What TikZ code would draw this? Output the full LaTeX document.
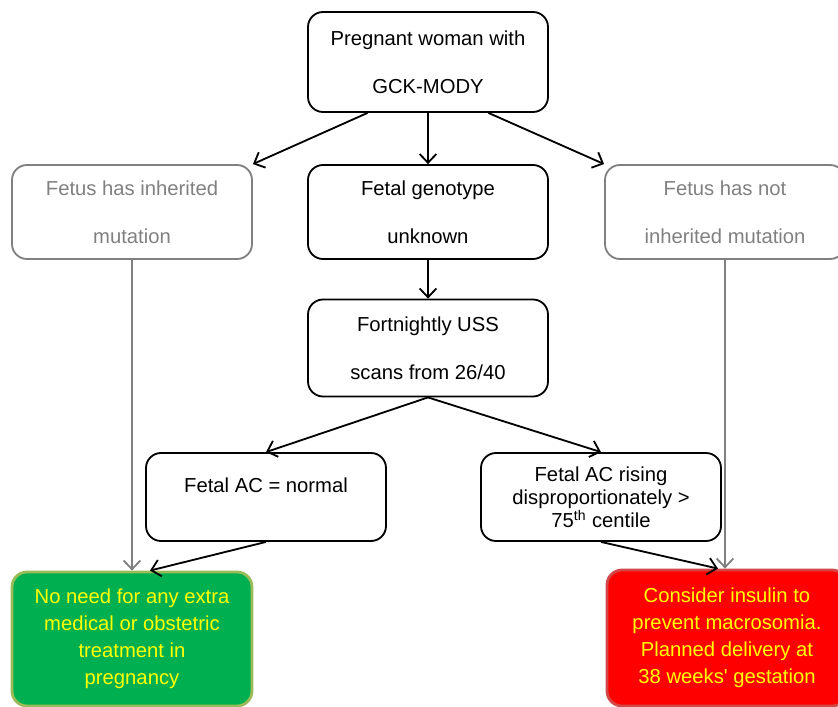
\documentclass[tikz,border=0pt]{standalone}
\usepackage{fontspec}
\setmainfont{Liberation Sans}
\usetikzlibrary{arrows.meta,positioning,calc}
\definecolor{boxgray}{HTML}{808080}
\definecolor{okgreen}{HTML}{00B050}
\definecolor{okgreenline}{HTML}{9BBB59}
\definecolor{alarmred}{HTML}{FF0000}
\definecolor{alarmredline}{HTML}{D24848}
\definecolor{outyellow}{HTML}{FFFF00}
\tikzset
{
    process/.style={rectangle, rounded corners=0.375cm, draw=black, line width=1.3pt, minimum width=6cm, align=center, font=\fontsize{14.4}{34}\selectfont},
    faded/.style={process, draw=boxgray, text=boxgray},
    tight/.style={process, minimum height=2.2cm, font=\fontsize{14.4}{16.5}\selectfont},
    outcome/.style={process, line width=2pt, text=outyellow, font=\fontsize{14.4}{19.2}\selectfont},
    arrow/.style={line width=1.3pt, ->, >={Straight Barb[length=2.2mm,width=4.2mm]}},
    grayarrow/.style={arrow, draw=boxgray},
}

\begin{document}
\begin{tikzpicture}[node distance=3.75cm]
	\useasboundingbox (0,0) rectangle (20.95,-17.675);
	\node (mother) [process, minimum height=2.5cm] at (10.7,-1.55) {Pregnant woman with\\GCK-MODY};
	\node (unknown) [process, below of=mother, minimum height=2.35cm] {Fetal genotype\\unknown};
	\node (inh) [faded, left of=unknown, xshift=-3.65cm, minimum height=2.35cm] {Fetus has inherited\\mutation};
	\node (notinh) [faded, right of=unknown, xshift=3.675cm, minimum height=2.35cm] {Fetus has not\\inherited mutation};
	\node (uss) [process, below of=unknown, yshift=0.35cm, minimum height=2.425cm] {Fortnightly USS\\scans from 26/40};
	\node (normal) [tight, below of=uss, xshift=-4.05cm, yshift=0.025cm] {Fetal AC = normal\\ \mbox{}};
	\node (rising) [tight, below of=uss, xshift=4.325cm, yshift=0.025cm] {Fetal AC rising\\disproportionately >\\75\textsuperscript{th} centile};
	\node (noneed) [outcome, below of=normal, xshift=-3.35cm, yshift=0.2cm, minimum height=3.35cm, fill=okgreen, draw=okgreenline] {No need for any extra\\medical or obstetric\\treatment in\\pregnancy};
	\node (insulin) [outcome, below of=rising, xshift=3.15cm, yshift=0.225cm, minimum height=3.4cm, fill=alarmred, draw=alarmredline] {Consider insulin to\\prevent macrosomia.\\Planned delivery at\\38 weeks\textquotesingle{} gestation};

	\draw [arrow] ($(mother.south west)!0.25!(mother.south east)$) -- (inh.north east);
	\draw [arrow] (mother) -- (unknown);
	\draw [arrow] ($(mother.south west)!0.75!(mother.south east)$) -- (notinh.north west);
	\draw [arrow] (unknown) -- (uss);
	\draw [arrow] (uss.south) -- (normal.north);
	\draw [arrow] (uss.south) -- (rising.north);
	\draw [arrow] (normal.south) -- ($(noneed.north)+(0.45cm,0)$);
	\draw [arrow] (rising.south) -- ($(insulin.north)+(-0.225cm,0)$);
	\draw [grayarrow] (inh) -- (noneed);
	\draw [grayarrow] (notinh.south) -- (notinh.south |- insulin.north);
\end{tikzpicture}
\end{document}
